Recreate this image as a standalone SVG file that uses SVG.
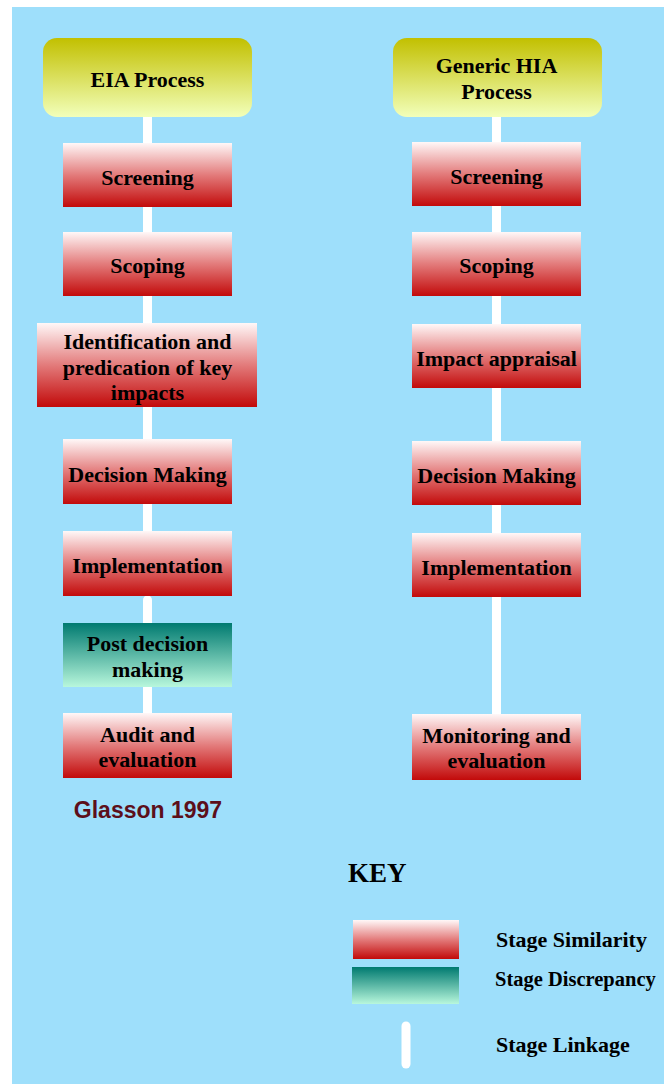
<svg xmlns="http://www.w3.org/2000/svg" width="664" height="1084" viewBox="0 0 664 1084">
<defs>
<linearGradient id="gRed" x1="0" y1="0" x2="0" y2="1">
<stop offset="0" stop-color="#fff8f8"/>
<stop offset="0.5" stop-color="#e37b7b"/>
<stop offset="1" stop-color="#c20a0a"/>
</linearGradient>
<linearGradient id="gTeal" x1="0" y1="0" x2="0" y2="1">
<stop offset="0" stop-color="#007a70"/>
<stop offset="0.5" stop-color="#5cb8a6"/>
<stop offset="1" stop-color="#b8f7dc"/>
</linearGradient>
<linearGradient id="gYel" x1="0" y1="0" x2="0" y2="1">
<stop offset="0" stop-color="#c2c000"/>
<stop offset="1" stop-color="#f2ffba"/>
</linearGradient>
<style>
.t{font-family:"Liberation Serif","Times New Roman",serif;font-weight:bold;font-size:22px;fill:#000;text-anchor:middle}
.k{font-family:"Liberation Serif","Times New Roman",serif;font-weight:bold;font-size:22px;fill:#000}
.k2{font-family:"Liberation Serif","Times New Roman",serif;font-weight:bold;font-size:20.5px;fill:#000}
.red{fill:url(#gRed)}
.teal{fill:url(#gTeal)}
.yel{fill:url(#gYel)}
.link{stroke:#fff;stroke-width:9;stroke-linecap:round;fill:none}
</style>
</defs>
<rect x="12" y="7" width="652" height="1077" fill="#9edffb"/>

<g id="connectors">
<line class="link" x1="147.5" y1="115" x2="147.5" y2="145"/>
<line class="link" x1="147.5" y1="205" x2="147.5" y2="234"/>
<line class="link" x1="147.5" y1="294" x2="147.5" y2="325"/>
<line class="link" x1="147.5" y1="405" x2="147.5" y2="441"/>
<line class="link" x1="147.5" y1="502" x2="147.5" y2="533"/>
<line class="link" x1="147.5" y1="600" x2="147.5" y2="625"/>
<line class="link" x1="147.5" y1="685" x2="147.5" y2="715"/>
<line class="link" x1="496.5" y1="115" x2="496.5" y2="144"/>
<line class="link" x1="496.5" y1="204" x2="496.5" y2="234"/>
<line class="link" x1="496.5" y1="294" x2="496.5" y2="326"/>
<line class="link" x1="496.5" y1="386" x2="496.5" y2="443"/>
<line class="link" x1="496.5" y1="503" x2="496.5" y2="535"/>
<line class="link" x1="496.5" y1="595" x2="496.5" y2="716"/>
</g>

<g id="eia">
<rect class="yel" x="43" y="38" width="209" height="79" rx="14"/>
<text class="t" x="147.5" y="87">EIA Process</text>
</g>
<g id="l-screening">
<rect class="red" x="63" y="143" width="169" height="64"/>
<text class="t" x="147.5" y="185">Screening</text>
</g>
<g id="l-scoping">
<rect class="red" x="63" y="232" width="169" height="64"/>
<text class="t" x="147.5" y="273">Scoping</text>
</g>
<g id="l-identification">
<rect class="red" x="37" y="323" width="220" height="84"/>
<text class="t" x="147.5" y="349">Identification and</text>
<text class="t" x="147.5" y="375">predication of key</text>
<text class="t" x="147.5" y="400">impacts</text>
</g>
<g id="l-decision">
<rect class="red" x="63" y="439" width="169" height="65"/>
<text class="t" x="147.5" y="482">Decision Making</text>
</g>
<g id="l-implementation">
<rect class="red" x="63" y="531" width="169" height="65"/>
<text class="t" x="147.5" y="573">Implementation</text>
</g>
<g id="l-post">
<rect class="teal" x="63" y="623" width="169" height="64"/>
<text class="t" x="147.5" y="651">Post decision</text>
<text class="t" x="147.5" y="677">making</text>
</g>
<g id="l-audit">
<rect class="red" x="63" y="713" width="169" height="65"/>
<text class="t" x="147.5" y="742">Audit and</text>
<text class="t" x="147.5" y="767">evaluation</text>
</g>
<g id="glasson">
<text x="148" y="818" text-anchor="middle" font-family="'Liberation Sans',Arial,sans-serif" font-weight="bold" font-size="23" fill="#5c0f1a">Glasson 1997</text>
</g>

<g id="hia">
<rect class="yel" x="393" y="38" width="209" height="79" rx="14"/>
<text class="t" x="496.5" y="73">Generic HIA</text>
<text class="t" x="496.5" y="99">Process</text>
</g>
<g id="r-screening">
<rect class="red" x="412" y="142" width="169" height="64"/>
<text class="t" x="496.5" y="184">Screening</text>
</g>
<g id="r-scoping">
<rect class="red" x="412" y="232" width="169" height="64"/>
<text class="t" x="496.5" y="273">Scoping</text>
</g>
<g id="r-impact">
<rect class="red" x="412" y="324" width="169" height="64"/>
<text class="t" x="496.5" y="366">Impact appraisal</text>
</g>
<g id="r-decision">
<rect class="red" x="412" y="441" width="169" height="64"/>
<text class="t" x="496.5" y="483">Decision Making</text>
</g>
<g id="r-implementation">
<rect class="red" x="412" y="533" width="169" height="64"/>
<text class="t" x="496.5" y="575">Implementation</text>
</g>
<g id="r-monitoring">
<rect class="red" x="412" y="714" width="169" height="66"/>
<text class="t" x="496.5" y="743">Monitoring and</text>
<text class="t" x="496.5" y="768">evaluation</text>
</g>

<g id="key">
<text x="348" y="882" font-family="'Liberation Serif','Times New Roman',serif" font-weight="bold" font-size="27" fill="#000">KEY</text>
<rect class="red" x="353" y="920" width="106" height="39"/>
<text class="k" x="496" y="947">Stage Similarity</text>
<rect class="teal" x="352" y="967" width="107" height="37"/>
<text class="k2" x="495" y="986">Stage Discrepancy</text>
<line class="link" x1="406" y1="1026" x2="406" y2="1064"/>
<text class="k" x="496" y="1052">Stage Linkage</text>
</g>
</svg>
